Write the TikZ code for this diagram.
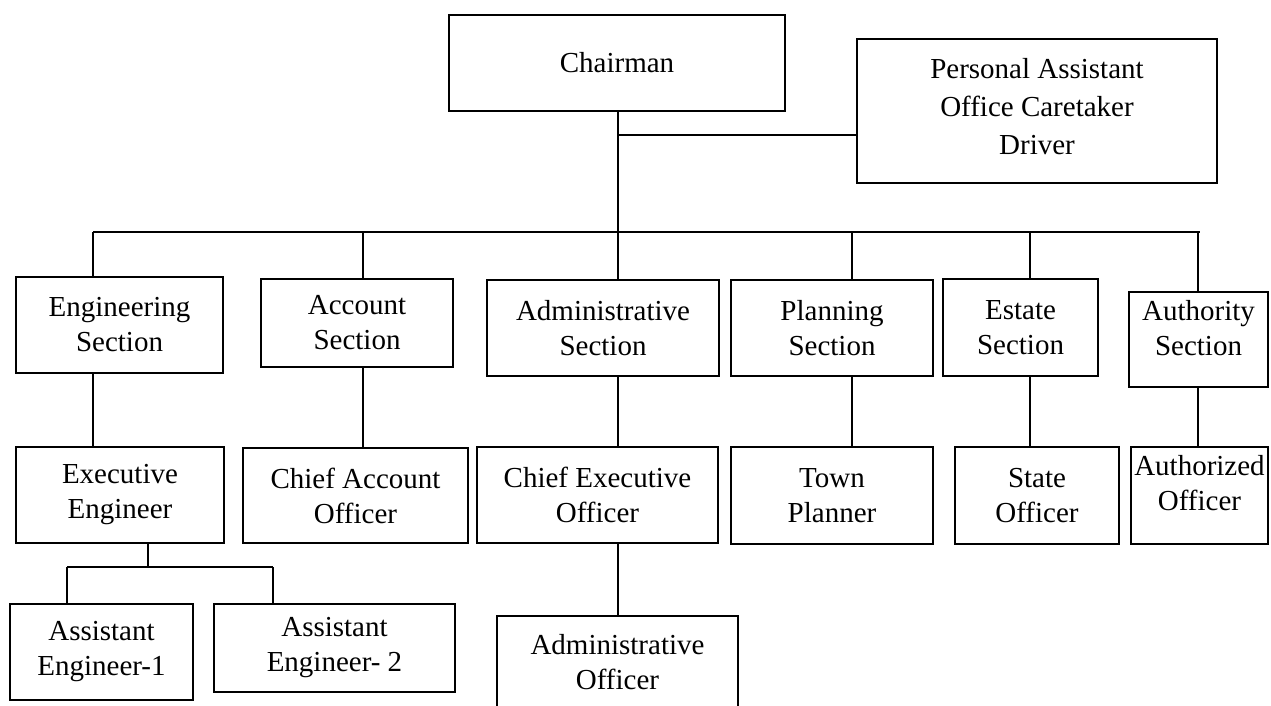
\documentclass[tikz,border=0pt]{standalone}
\usepackage{fontspec}
\setmainfont{Liberation Serif}
\begin{document}
\begin{tikzpicture}[x=0.5pt,y=-0.5pt,
  box/.style={draw, line width=0.9pt, inner sep=0pt, outer sep=0pt, align=center,
    font=\fontsize{14.5pt}{17.5pt}\selectfont},
  conn/.style={line width=0.9pt}]
\useasboundingbox (0,0) rectangle (1271,706);
\clip (0,0) rectangle (1271,706);

% top level
\node[box, minimum width=168pt, minimum height=48pt] (chair) at (617,63) {Chairman};
\node[box, minimum width=180pt, minimum height=72pt, text depth=5pt,
  font=\fontsize{14.5pt}{19pt}\selectfont] (pa) at (1037,111)
  {Personal Assistant\\Office Caretaker\\Driver};

% sections
\node[box, minimum width=103.5pt, minimum height=48pt]   (eng)  at (119.5,325)  {Engineering\\Section};
\node[box, minimum width=96pt,    minimum height=44pt]   (acc)  at (357,323)    {Account\\Section};
\node[box, minimum width=116pt,   minimum height=48pt]   (adms) at (603,328)    {Administrative\\Section};
\node[box, minimum width=101pt,   minimum height=48pt]   (plan) at (832,328)    {Planning\\Section};
\node[box, minimum width=77.5pt,  minimum height=48.5pt] (est)  at (1020.5,327.5) {Estate\\Section};
\node[box, minimum width=69.5pt,  minimum height=47.5pt, text depth=12pt] (auth) at (1198.5,339.5) {Authority\\Section};

% officers
\node[box, minimum width=104pt,   minimum height=48pt]   (exec)   at (120,495)    {Executive\\Engineer};
\node[box, minimum width=112.5pt, minimum height=47.5pt] (chacc)  at (355.5,495.5) {Chief Account\\Officer};
\node[box, minimum width=120.5pt, minimum height=48pt]   (chexec) at (597.5,495)  {Chief Executive\\Officer};
\node[box, minimum width=101pt,   minimum height=48.5pt] (town)   at (832,495.5)  {Town\\Planner};
\node[box, minimum width=82pt,    minimum height=48.5pt] (state)  at (1037,495.5) {State\\Officer};
\node[box, minimum width=68.5pt,  minimum height=48.5pt, text depth=13pt] (authz) at (1199.5,495.5) {Authorized\\Officer};

% lowest level
\node[box, minimum width=91.5pt,  minimum height=48pt] (as1)  at (101.5,652) {Assistant\\Engineer-1};
\node[box, minimum width=120.5pt, minimum height=44pt] (as2)  at (334.5,648) {Assistant\\Engineer- 2};
\node[box, minimum width=120.5pt, minimum height=46pt] (admo) at (617.5,662) {Administrative\\Officer};

% junction coordinates
\coordinate (j1) at (618,135);
\coordinate (busL) at (93,232);
\coordinate (busR) at (1200,232);
\coordinate (dEng) at (93,232);
\coordinate (dAcc) at (363,232);
\coordinate (dAdm) at (618,232);
\coordinate (dPlan) at (852,232);
\coordinate (dEst) at (1030,232);
\coordinate (dAuth) at (1198,232);
\coordinate (e1) at (148,567);
\coordinate (s1) at (67,567);
\coordinate (s2) at (273,567);

% connectors
\draw[conn] (chair.south -| dAdm) -- (dAdm);
\draw[conn] (j1) -- (pa.west |- j1);
\draw[conn] (busL) -- (busR);
\draw[conn] (dEng)  -- (dEng |- eng.north);
\draw[conn] (dAcc)  -- (dAcc |- acc.north);
\draw[conn] (dAdm)  -- (dAdm |- adms.north);
\draw[conn] (dPlan) -- (dPlan |- plan.north);
\draw[conn] (dEst)  -- (dEst |- est.north);
\draw[conn] (dAuth) -- (dAuth |- auth.north);

\draw[conn] (eng.south -| dEng)   -- (dEng |- exec.north);
\draw[conn] (acc.south -| dAcc)   -- (dAcc |- chacc.north);
\draw[conn] (adms.south -| dAdm)  -- (dAdm |- chexec.north);
\draw[conn] (plan.south -| dPlan) -- (dPlan |- town.north);
\draw[conn] (est.south -| dEst)   -- (dEst |- state.north);
\draw[conn] (auth.south -| dAuth) -- (dAuth |- authz.north);

\draw[conn] (exec.south -| e1) -- (e1);
\draw[conn] (s1) -- (s2);
\draw[conn] (s1) -- (s1 |- as1.north);
\draw[conn] (s2) -- (s2 |- as2.north);
\draw[conn] (chexec.south -| dAdm) -- (dAdm |- admo.north);
\end{tikzpicture}
\end{document}
